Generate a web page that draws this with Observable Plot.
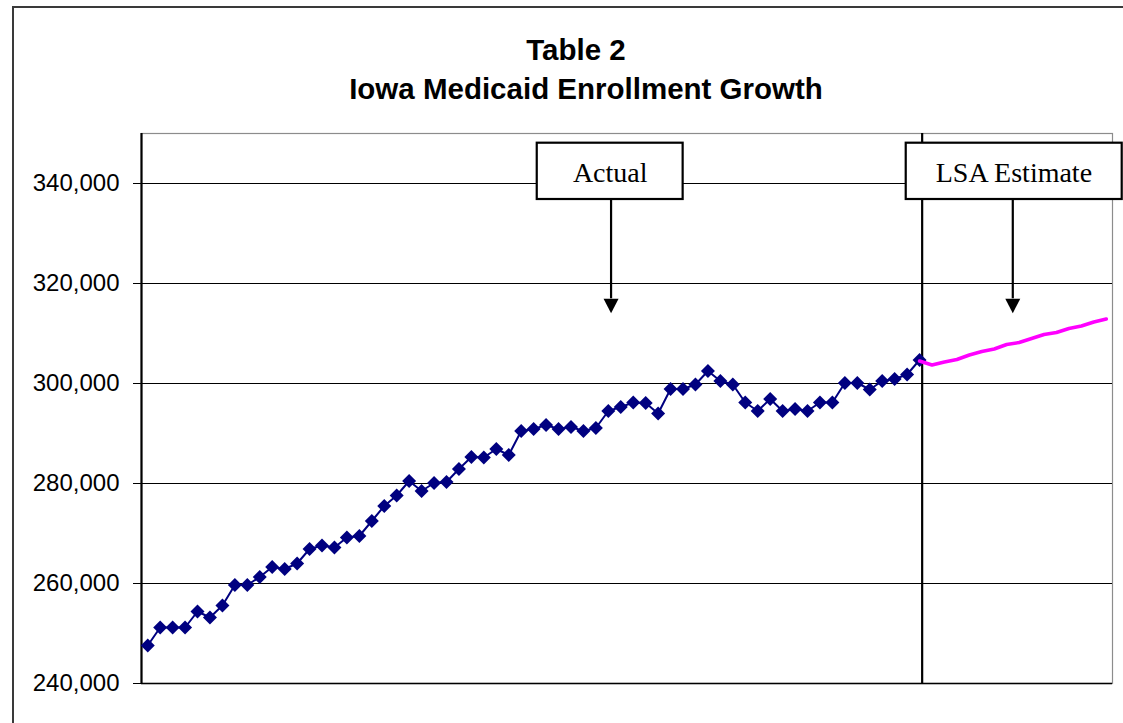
<!DOCTYPE html>
<html><head><meta charset="utf-8">
<script src="https://cdn.jsdelivr.net/npm/d3@7"></script>
<script src="https://cdn.jsdelivr.net/npm/@observablehq/plot@0.6"></script>
<style>
html,body{margin:0;padding:0;background:#fff;overflow:hidden}
#wrap{position:relative;width:1123px;height:723px;overflow:hidden}
#outer{position:absolute;left:12px;top:6px;width:1300px;height:900px;border-left:2px solid #3a3a3a;border-top:2px solid #3a3a3a;box-sizing:border-box;pointer-events:none}
#title{position:relative;width:1123px;height:110px;font-family:"Liberation Sans",Arial,sans-serif;font-weight:bold;font-size:29.5px;line-height:29.5px;color:#000}
#title div{position:absolute;white-space:nowrap;transform:translateX(-50%)}
#chart{position:relative}
</style></head>
<body>
<div id="wrap">
  <div id="outer"></div>
  <div id="title">
    <div style="left:576px;top:35px">Table 2</div>
    <div style="left:586px;top:74px">Iowa Medicaid Enrollment Growth</div>
  </div>
  <div id="chart"></div>
</div>
<script>
// ---- data (monthly enrollment) ----
const actualValues = [
  247600, 251200, 251200, 251200, 254400, 253200, 255600, 259700, 259700, 261300,
  263300, 262900, 264000, 266900, 267600, 267200, 269200, 269500, 272500, 275500,
  277600, 280500, 278500, 280100, 280300, 282900, 285300, 285200, 286900, 285700,
  290500, 290900, 291700, 290900, 291300, 290500, 291100, 294500, 295300, 296200,
  296100, 294000, 298900, 298900, 299800, 302500, 300500, 299800, 296200, 294500,
  296900, 294500, 294900, 294500, 296200, 296200, 300100, 300100, 298800, 300500,
  300900, 301800, 304700
];
// LSA estimate, starting from the last actual month
const estimateValues = [
  304500, 303700, 304300, 304800, 305700, 306400, 306900, 307800, 308200, 309000,
  309800, 310200, 311000, 311500, 312300, 312900
];
const monthCount = 78;
const yTicks = [240000, 260000, 280000, 300000, 320000, 340000];
const annotationLabels = ["Actual", "LSA Estimate"];

// ---- tables built from the arrays ----
const actual = actualValues.map((v, i) => ({month: i, value: v}));
const estStart = actualValues.length - 1;
const estimate = estimateValues.map((v, i) => ({month: estStart + i, value: v}));

// annotation layout (in data units)
const boxes = [
  {label: annotationLabels[0], x1: 31.29, x2: 43.01, xc: 37.15, ax: 37.22},
  {label: annotationLabels[1], x1: 60.93, x2: 78.28, xc: 69.58, ax: 69.49}
];
const boxTop = 348060, boxBottom = 336800, textY = 342040, arrowTip = 314060, arrowHeadBase = 316940;
const divider = 62.21;

const diamond = {draw(ctx) { const r = 7; ctx.moveTo(0, -r); ctx.lineTo(r, 0); ctx.lineTo(0, r); ctx.lineTo(-r, 0); ctx.closePath(); }};
const headDown = {draw(ctx) { ctx.moveTo(0, 0); ctx.lineTo(-7.5, -14.5); ctx.lineTo(7.5, -14.5); ctx.closePath(); }};

const chart = Plot.plot({
  width: 1123,
  height: 613,
  marginLeft: 141,
  marginRight: 11,
  marginTop: 23,
  marginBottom: 40,
  style: {fontFamily: '"Liberation Sans", Arial, sans-serif', fontSize: "24px", color: "#000", background: "transparent", overflow: "visible"},
  x: {domain: [-0.5, monthCount - 0.5], axis: null},
  y: {domain: [240000, 350000], axis: null},
  marks: [
    Plot.frame({stroke: "#8c8c8c", strokeWidth: 1.2}),
    Plot.ruleY(yTicks.slice(1), {stroke: "#000", strokeWidth: 1}),
    Plot.axisY(yTicks, {anchor: "left", tickFormat: d3.format(","), tickSize: 8, tickPadding: 14, stroke: "#000", fill: "#000", label: null, fontSize: 24}),
    Plot.ruleY([240000], {stroke: "#000", strokeWidth: 1.5}),
    Plot.ruleX([-0.5], {stroke: "#000", strokeWidth: 2.2}),
    Plot.ruleX([divider], {stroke: "#000", strokeWidth: 2.2}),
    Plot.line(actual, {x: "month", y: "value", stroke: "#000080", strokeWidth: 2}),
    Plot.dot(actual, {x: "month", y: "value", symbol: diamond, fill: "#000080", stroke: "none"}),
    Plot.line(estimate, {x: "month", y: "value", stroke: "#ff00ff", strokeWidth: 3.5}),
    Plot.ruleX(boxes, {x: "ax", y1: boxBottom, y2: arrowHeadBase, stroke: "#000", strokeWidth: 2.2}),
    Plot.dot(boxes, {x: "ax", y: arrowTip, symbol: headDown, fill: "#000", stroke: "none"}),
    Plot.rect(boxes, {x1: "x1", x2: "x2", y1: boxBottom, y2: boxTop, fill: "#fff", stroke: "#000", strokeWidth: 2.2}),
    Plot.text(boxes, {x: "xc", y: textY, text: "label", fontFamily: '"Liberation Serif", "Times New Roman", serif', fontSize: 28, fill: "#000"})
  ]
});
document.getElementById("chart").appendChild(chart);
</script>
</body></html>
